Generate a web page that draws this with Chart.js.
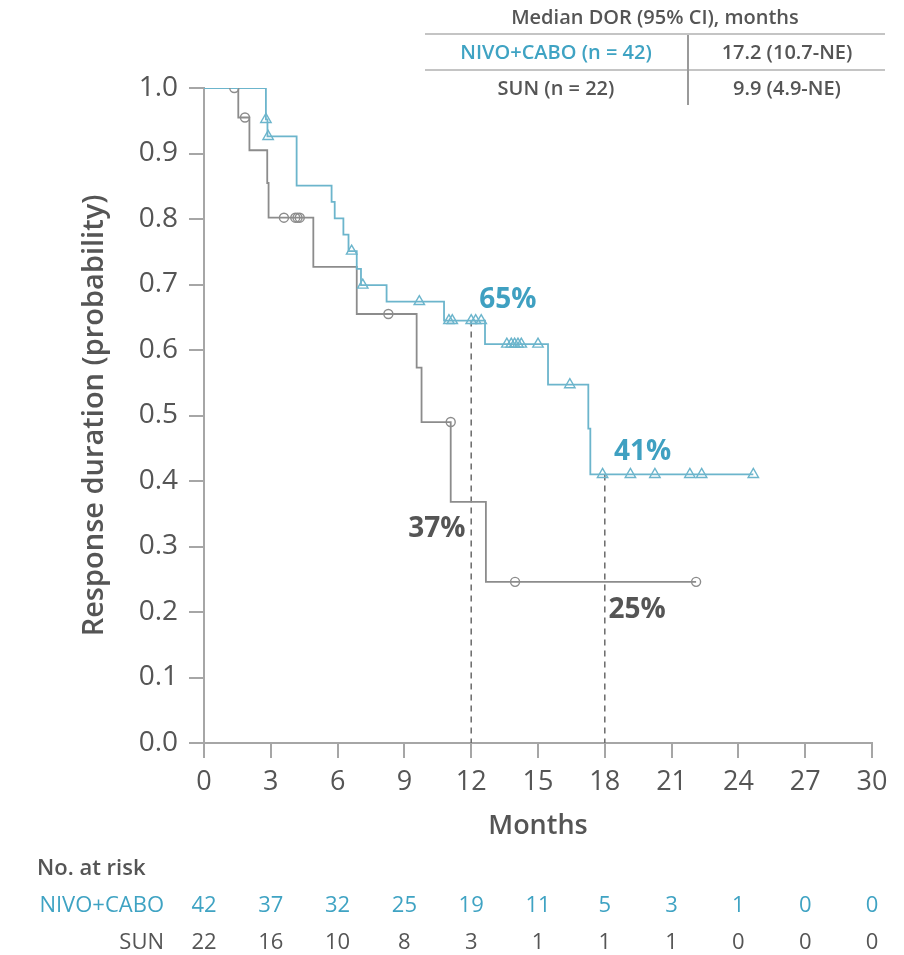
<!DOCTYPE html>
<html>
<head>
<meta charset="utf-8">
<script src="https://cdn.jsdelivr.net/npm/chart.js@4.4.0/dist/chart.umd.min.js"></script>
<style>
  body { margin: 0; background: #fff; }
  #wrap { position: relative; width: 904px; height: 955px; font-family: 'Open Sans', sans-serif; color: #555; overflow: hidden; }
  #c { position: absolute; left: 0; top: 0; }
  #dorTitle { position: absolute; left: 425px; width: 460px; top: 4px; height: 26px; line-height: 26px; text-align: center; font-size: 20px; font-weight: 600; }
  #dor { position: absolute; left: 425px; top: 33px; width: 460px; border-collapse: collapse; font-size: 20px; font-weight: 600; }
  #dor td { height: 34px; padding: 0; text-align: center; border-top: 2px solid #c4c4c4; line-height: 34px; }
  #dor td.c1 { width: 262px; }
  #dor td.c2 { border-left: 2px solid #9a9a9a; }
  .teal { color: #3fa3c3; }
  .rk { position: absolute; height: 30px; line-height: 30px; font-size: 22px; white-space: nowrap; }
</style>
</head>
<body>
<div id="wrap">
  <canvas id="c" width="904" height="955"></canvas>
  <div id="dorTitle">Median DOR (95% CI), months</div>
  <table id="dor">
    <tr><td class="c1 teal">NIVO+CABO (n = 42)</td><td class="c2">17.2 (10.7-NE)</td></tr>
    <tr><td class="c1">SUN (n = 22)</td><td class="c2">9.9 (4.9-NE)</td></tr>
  </table>
  <div id="risk"></div>
</div>
<script>
// ---- data ----
const xTicks = [0, 3, 6, 9, 12, 15, 18, 21, 24, 27, 30];
const yTicks = [0, 0.1, 0.2, 0.3, 0.4, 0.5, 0.6, 0.7, 0.8, 0.9, 1.0];

// NIVO+CABO Kaplan-Meier steps (month, survival after step)
const nivoMonths = [0, 2.78, 2.85, 4.16, 5.73, 5.87, 6.26, 6.49, 6.86, 7.05, 8.2, 10.78, 12.62, 15.45, 17.26, 17.35, 24.67];
const nivoSurv   = [1.0, 0.952, 0.926, 0.851, 0.826, 0.801, 0.776, 0.751, 0.724, 0.699, 0.674, 0.645, 0.609, 0.547, 0.48, 0.41, 0.41];
// NIVO+CABO censored
const nivoCensMonths = [2.78, 2.88, 6.63, 7.13, 9.67, 11.0, 11.15, 12.0, 12.2, 12.45, 13.6, 13.8, 13.95, 14.1, 14.25, 15.0, 16.43, 17.9, 19.15, 20.25, 21.82, 22.35, 24.67];
const nivoCensSurv   = [0.952, 0.926, 0.751, 0.699, 0.674, 0.645, 0.645, 0.645, 0.645, 0.645, 0.609, 0.609, 0.609, 0.609, 0.609, 0.609, 0.547, 0.41, 0.41, 0.41, 0.41, 0.41, 0.41];

// SUN Kaplan-Meier steps
const sunMonths = [0, 1.54, 2.04, 2.84, 2.9, 4.91, 6.86, 9.55, 9.77, 11.08, 12.66, 22.1];
const sunSurv   = [1.0, 0.955, 0.905, 0.855, 0.802, 0.727, 0.655, 0.573, 0.49, 0.368, 0.246, 0.246];
// SUN censored
const sunCensMonths = [1.36, 1.84, 3.59, 4.1, 4.2, 4.3, 8.28, 11.08, 13.97, 22.1];
const sunCensSurv   = [1.0, 0.955, 0.802, 0.802, 0.802, 0.802, 0.655, 0.49, 0.246, 0.246];

// landmark reference lines (month, survival)
const landmarkMonths = [12, 18];
const landmarkSurv   = [0.645, 0.41];

// landmark annotations
const pctTexts  = ['65%', '41%', '37%', '25%'];
const pctMonths = [13.65, 19.7, 10.46, 19.45];
const pctSurv   = [0.676, 0.444, 0.327, 0.203];
const pctSeries = ['nivo', 'nivo', 'sun', 'sun'];

// numbers at risk
const nivoRisk = [42, 37, 32, 25, 19, 11, 5, 3, 1, 0, 0];
const sunRisk  = [22, 16, 10, 8, 3, 1, 1, 1, 0, 0, 0];

// ---- styles ----
const FONT = "'Open Sans', sans-serif";
const TEAL_LINE = '#6cb5cc';
const TEAL_TEXT = '#3fa0c1';
const GRAY_LINE = '#8c8c8c';
const TEXT = '#555555';
const AXIS = '#a6a6a6';

const toXY = (xs, ys) => xs.map((x, i) => ({ x: x, y: ys[i] }));

const datasets = [
  { type: 'scatter', data: toXY(nivoCensMonths, nivoCensSurv), showLine: false, pointStyle: 'triangle', pointRadius: 6, borderColor: TEAL_LINE, borderWidth: 1.4, backgroundColor: 'rgba(255,255,255,0)' },
  { type: 'scatter', data: toXY(sunCensMonths, sunCensSurv), showLine: false, pointStyle: 'circle', pointRadius: 4.5, borderColor: GRAY_LINE, borderWidth: 1.4, backgroundColor: 'rgba(255,255,255,0)' },
  { type: 'line', data: toXY(nivoMonths, nivoSurv), stepped: true, borderColor: TEAL_LINE, borderWidth: 1.8, pointRadius: 0, fill: false },
  { type: 'line', data: toXY(sunMonths, sunSurv), stepped: true, borderColor: GRAY_LINE, borderWidth: 1.8, pointRadius: 0, fill: false }
];
landmarkMonths.forEach((m, i) => {
  datasets.push({ type: 'line', data: [{ x: m, y: landmarkSurv[i] }, { x: m, y: 0 }], borderColor: '#6a6a6a', borderWidth: 1.5, borderDash: [6, 5], pointRadius: 0, fill: false });
});

const pctPlugin = {
  id: 'pct',
  afterDatasetsDraw(chart) {
    const ctx = chart.ctx, xs = chart.scales.x, ys = chart.scales.y;
    ctx.save();
    ctx.font = "700 28px " + FONT;
    ctx.textAlign = 'center';
    ctx.textBaseline = 'middle';
    pctTexts.forEach((t, i) => {
      ctx.fillStyle = pctSeries[i] === 'nivo' ? TEAL_TEXT : TEXT;
      ctx.fillText(t, xs.getPixelForValue(pctMonths[i]), ys.getPixelForValue(pctSurv[i]));
    });
    ctx.restore();
  }
};

const chart = new Chart(document.getElementById('c'), {
  data: { datasets: datasets },
  plugins: [pctPlugin],
  options: {
    responsive: false,
    animation: false,
    layout: { padding: { left: 0, right: 32, top: 88, bottom: 112 } },
    plugins: { legend: { display: false }, tooltip: { enabled: false } },
    scales: {
      x: {
        type: 'linear', min: 0, max: 30,
        afterBuildTicks: s => { s.ticks = xTicks.map(v => ({ value: v })); },
        ticks: { color: TEXT, font: { family: FONT, size: 27 }, padding: 8, autoSkip: false, maxRotation: 0 },
        grid: { drawOnChartArea: false, drawTicks: true, tickLength: 15, color: AXIS, lineWidth: 2 },
        border: { color: AXIS, width: 2 },
        title: { display: true, text: 'Months', color: TEXT, font: { family: FONT, size: 27, weight: '600' }, padding: { top: 0, bottom: 0 } },
        afterFit: s => { s.height = 100; }
      },
      y: {
        type: 'linear', min: 0, max: 1,
        afterBuildTicks: s => { s.ticks = yTicks.map(v => ({ value: v })); },
        ticks: { color: TEXT, font: { family: FONT, size: 28 }, padding: 11, callback: v => Number(v).toFixed(1) },
        grid: { drawOnChartArea: false, drawTicks: true, tickLength: 15, color: AXIS, lineWidth: 2 },
        border: { color: AXIS, width: 2 },
        title: { display: true, text: 'Response duration (probability)', color: TEXT, font: { family: FONT, size: 29, weight: '600' }, padding: { top: 77, bottom: 0 } },
        afterFit: s => { s.width = 204; }
      }
    }
  }
});

// ---- numbers-at-risk table (HTML text aligned to the x scale) ----
(function () {
  const risk = document.getElementById('risk');
  const xs = chart.scales.x;
  function add(text, cls, style) {
    const d = document.createElement('div');
    d.className = 'rk' + (cls ? ' ' + cls : '');
    d.textContent = text;
    Object.assign(d.style, style);
    risk.appendChild(d);
    return d;
  }
  add('No. at risk', '', { left: '37px', top: '851px', fontWeight: '600' });
  add('NIVO+CABO', 'teal', { left: '0px', width: '164px', textAlign: 'right', top: '888px' });
  add('SUN', '', { left: '0px', width: '164px', textAlign: 'right', top: '925px' });
  xTicks.forEach((t, i) => {
    const px = xs.getPixelForValue(t);
    add(String(nivoRisk[i]), 'teal', { left: (px - 30) + 'px', width: '60px', textAlign: 'center', top: '888px' });
    add(String(sunRisk[i]), '', { left: (px - 30) + 'px', width: '60px', textAlign: 'center', top: '925px' });
  });
})();
</script>
</body>
</html>
